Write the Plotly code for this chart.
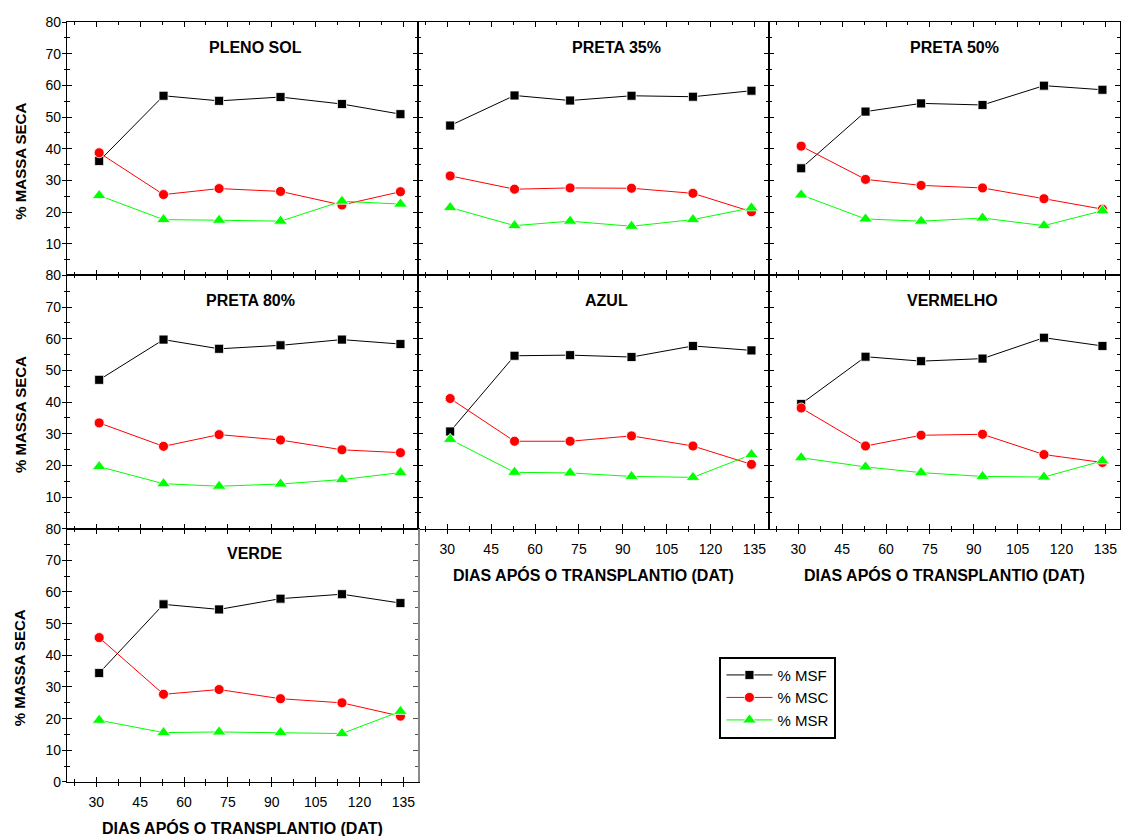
import plotly.graph_objects as go
from plotly.subplots import make_subplots

days = [31, 53, 72, 93, 114, 134]
panels = ["PLENO SOL", "PRETA 35%", "PRETA 50%", "PRETA 80%", "AZUL", "VERMELHO", "VERDE"]

msf = [
    [36.1, 56.7, 55.1, 56.3, 54.1, 50.9],
    [47.3, 56.8, 55.2, 56.7, 56.4, 58.3],
    [33.8, 51.7, 54.3, 53.8, 59.9, 58.6],
    [47.0, 59.7, 56.8, 57.9, 59.7, 58.3],
    [30.7, 54.6, 54.8, 54.2, 57.7, 56.3],
    [39.4, 54.3, 52.9, 53.7, 60.3, 57.7],
    [34.4, 56.1, 54.5, 57.9, 59.3, 56.5],
]
msc = [
    [38.7, 25.5, 27.4, 26.5, 22.2, 26.4],
    [31.4, 27.2, 27.6, 27.5, 25.9, 20.1],
    [40.8, 30.3, 28.4, 27.6, 24.2, 20.9],
    [33.4, 26.0, 29.7, 28.0, 24.9, 24.0],
    [41.1, 27.6, 27.6, 29.3, 26.1, 20.3],
    [38.1, 26.1, 29.5, 29.8, 23.4, 20.9],
    [45.6, 27.7, 29.2, 26.3, 25.0, 20.8],
]
msr = [
    [25.2, 17.6, 17.4, 17.1, 23.4, 22.5],
    [21.4, 15.7, 17.1, 15.5, 17.6, 21.3],
    [25.4, 17.8, 17.1, 18.1, 15.7, 20.4],
    [19.6, 14.2, 13.4, 14.1, 15.5, 17.7],
    [28.2, 17.8, 17.6, 16.5, 16.2, 23.4],
    [22.4, 19.5, 17.7, 16.5, 16.3, 21.4],
    [19.5, 15.6, 15.8, 15.6, 15.3, 22.3],
]
series_names = ["% MSF", "% MSC", "% MSR"]
x_ticks = [30, 45, 60, 75, 90, 105, 120, 135]
y_ticks = [0, 10, 20, 30, 40, 50, 60, 70, 80]

x_title = "DIAS APÓS O TRANSPLANTIO (DAT)"
y_title = "% MASSA SECA"

positions = [(1, 1), (1, 2), (1, 3), (2, 1), (2, 2), (2, 3), (3, 1)]
title_x = [84.3, 87.7, 83.4, 82.9, 84.4, 82.7, 84.2]
styles = [
    dict(color="black", symbol="square", size=9),
    dict(color="#FF0000", symbol="circle", size=10),
    dict(color="#00FF00", symbol="triangle-up", size=12),
]

FONT = "Liberation Sans, Arial, sans-serif"
X_RANGE = [20, 140]
Y_RANGE = [0, 80]

fig = make_subplots(
    rows=3, cols=3, horizontal_spacing=0, vertical_spacing=0,
    specs=[[{}, {}, {}], [{}, {}, {}], [{}, None, None]],
)

for i, (r, c) in enumerate(positions):
    for s, data in enumerate([msf, msc, msr]):
        st = styles[s]
        fig.add_trace(
            go.Scatter(
                x=days, y=data[i], mode="lines+markers", name=series_names[s],
                legendgroup=series_names[s], showlegend=(i == 0),
                line=dict(color=st["color"], width=1),
                marker=dict(color=st["color"], symbol=st["symbol"], size=st["size"],
                            line=dict(color="white", width=0.8)),
            ),
            row=r, col=c,
        )

bottom_of_col = {(3, 1), (2, 2), (2, 3)}
tickfont = dict(family=FONT, size=14, color="black")
for i, (r, c) in enumerate(positions):
    show_x = (r, c) in bottom_of_col
    fig.update_xaxes(
        row=r, col=c, range=X_RANGE, tickmode="array", tickvals=x_ticks,
        showticklabels=show_x, ticks="inside", ticklen=5, tickwidth=1.2, tickcolor="black",
        minor=dict(ticks="inside", ticklen=3, tickwidth=1, tickcolor="black",
                   tickmode="linear", tick0=22.5, dtick=15),
        showline=True, linecolor="black", linewidth=1.2, mirror="ticks",
        showgrid=False, zeroline=False, automargin=False,
        tickfont=tickfont, ticklabelstandoff=7,
    )
    ticktext = [str(v) for v in y_ticks]
    if r != 3:
        ticktext[0] = ""
    fig.update_yaxes(
        row=r, col=c, range=Y_RANGE, tickmode="array", tickvals=y_ticks, ticktext=ticktext,
        showticklabels=(c == 1), ticks="inside", ticklen=5, tickwidth=1.2, tickcolor="black",
        minor=dict(ticks="inside", ticklen=3, tickwidth=1, tickcolor="black",
                   tickmode="linear", tick0=5, dtick=10),
        showline=True, linecolor="black", linewidth=1.2,
        mirror=(False if (r, c) == (3, 1) else "ticks"),
        showgrid=False, zeroline=False, automargin=False,
        tickfont=tickfont, ticklabelstandoff=2,
    )

# overlay axes that add the outward half of the crossing ticks on outer edges
outer_common = dict(
    ticks="outside", ticklen=4, tickwidth=1.2, tickcolor="black",
    showline=False, showticklabels=False, showgrid=False, zeroline=False,
    automargin=False,
)
y_overlays = [("yaxis8", "y8", "y", "x"), ("yaxis9", "y9", "y4", "x4"), ("yaxis10", "y10", "y7", "x7")]
x_overlays = [("xaxis8", "x8", "x7", "y7"), ("xaxis9", "x9", "x5", "y5"), ("xaxis10", "x10", "x6", "y6")]
for key, ref, over, anchor in y_overlays:
    fig.layout[key] = dict(
        overlaying=over, anchor=anchor, side="left", range=Y_RANGE,
        tickmode="array", tickvals=y_ticks,
        minor=dict(ticks="outside", ticklen=2.5, tickwidth=1, tickcolor="black",
                   tickmode="linear", tick0=5, dtick=10),
        **outer_common,
    )
    fig.add_trace(go.Scatter(x=[], y=[], xaxis=anchor, yaxis=ref, showlegend=False,
                             hoverinfo="skip"))
for key, ref, over, anchor in x_overlays:
    fig.layout[key] = dict(
        overlaying=over, anchor=anchor, side="bottom", range=X_RANGE,
        tickmode="array", tickvals=x_ticks,
        minor=dict(ticks="outside", ticklen=2.5, tickwidth=1, tickcolor="black",
                   tickmode="linear", tick0=22.5, dtick=15),
        **outer_common,
    )
    fig.add_trace(go.Scatter(x=[], y=[], xaxis=ref, yaxis=anchor, showlegend=False,
                             hoverinfo="skip"))

# grey right-hand frame of the VERDE panel
fig.layout["yaxis11"] = dict(
    overlaying="y7", anchor="x7", side="right", range=Y_RANGE,
    tickmode="array", tickvals=y_ticks, showticklabels=False,
    ticks="inside", ticklen=5, tickwidth=1.2, tickcolor="#555555",
    minor=dict(ticks="inside", ticklen=3, tickwidth=1, tickcolor="#555555",
               tickmode="linear", tick0=5, dtick=10),
    showline=True, linecolor="#8a8a8a", linewidth=1.6,
    showgrid=False, zeroline=False, automargin=False,
)
fig.add_trace(go.Scatter(x=[], y=[], xaxis="x7", yaxis="y11", showlegend=False,
                         hoverinfo="skip"))

annotations = []
for i, (r, c) in enumerate(positions):
    idx = (r - 1) * 3 + c
    sfx = "" if idx == 1 else str(idx)
    annotations.append(dict(
        text="<b>%s</b>" % panels[i], x=title_x[i], y=72, xref="x" + sfx, yref="y" + sfx,
        showarrow=False, font=dict(family=FONT, size=16, color="black"),
        xanchor="center", yanchor="middle",
    ))
    if c == 1:
        annotations.append(dict(
            text="<b>%s</b>" % y_title, x=-0.0443, y=36, xref="paper", yref="y" + sfx,
            textangle=-90, showarrow=False, font=dict(family=FONT, size=15, color="black"),
            xanchor="center", yanchor="middle",
        ))
    if (r, c) in bottom_of_col:
        annotations.append(dict(
            text="<b>%s</b>" % x_title, x=0.5, y=-0.182, xref="x" + sfx + " domain",
            yref="y" + sfx + " domain", showarrow=False,
            font=dict(family=FONT, size=16, color="black"),
            xanchor="center", yanchor="middle",
        ))

fig.update_layout(
    width=1121, height=836,
    margin=dict(l=66.7, r=1, t=22, b=54, autoexpand=False),
    paper_bgcolor="white", plot_bgcolor="white",
    font=dict(family=FONT, color="black"),
    annotations=annotations,
    legend=dict(
        x=0.6196, y=0.1649, xanchor="left", yanchor="top",
        bordercolor="black", borderwidth=2, bgcolor="white",
        font=dict(family=FONT, size=15, color="black"),
        tracegroupgap=0, itemwidth=46,
    ),
)

fig.write_html(
    "out.html",
    config={"displayModeBar": False},
    post_script="document.body.style.margin='0';document.body.style.overflow='hidden';",
)
